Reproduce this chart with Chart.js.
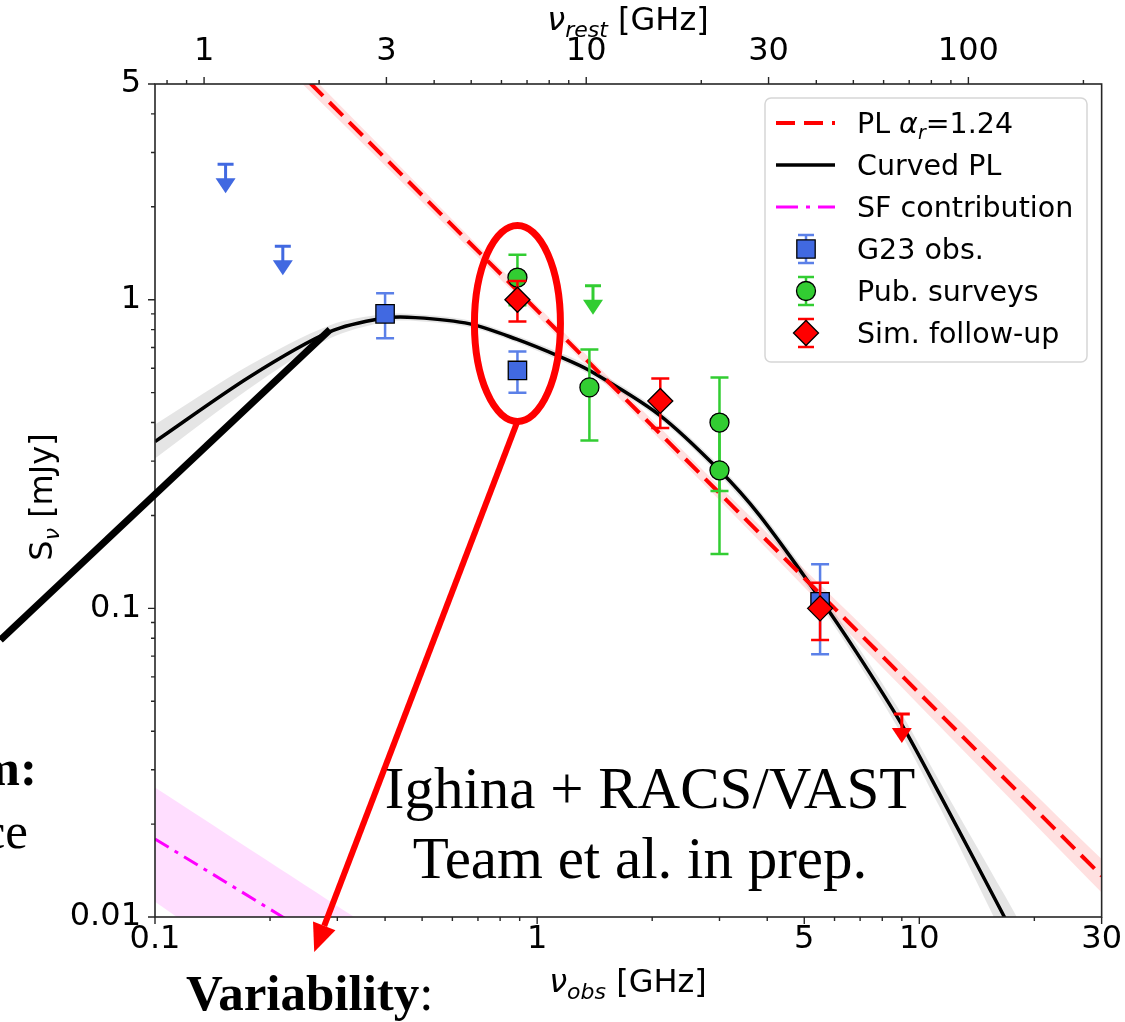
<!DOCTYPE html>
<html>
<head>
<meta charset="utf-8">
<title>Radio SED</title>
<script src="https://cdn.jsdelivr.net/npm/chart.js@4.4.1/dist/chart.umd.min.js"></script>
<style>
  html, body { margin: 0; padding: 0; background: #fff; }
  canvas { display: block; }
</style>
</head>
<body>
<canvas id="sed" width="1125" height="1022"></canvas>
<script>
const redshift = 6.44;

// observed frequency [GHz], flux density [mJy]
const g23Freq = [0.4, 0.888, 5.5];
const g23Flux = [0.90, 0.59, 0.105];
const g23Err = [0.15, 0.09, 0.034];
const g23LimFreq = [0.153, 0.216];
const g23LimFlux = [2.75, 1.49];

const pubFreq = [0.888, 1.37, 3.0, 3.0];
const pubFlux = [1.18, 0.52, 0.40, 0.28];
const pubErr = [0.22, 0.17, 0.16, 0.13];
const pubLimFreq = [1.4];
const pubLimFlux = [1.11];

const simFreq = [0.888, 2.1, 5.5];
const simFlux = [1.0, 0.47, 0.10];
const simErr = [0.15, 0.086, 0.021];
const simLimFreq = [9.0];
const simLimFlux = [0.0455];

// power law fit and its 1-sigma band
const plFreq = [0.2, 1.5, 30];
const plFlux = [6.8, 0.558, 0.0136];
const plHi = [7.25, 0.58, 0.0154];
const plLo = [6.35, 0.536, 0.0120];

// curved power law fit and band
const cplFreq = [0.1, 0.177, 0.287, 0.396, 0.48, 0.667, 0.883, 1.147, 1.37, 2.09, 3.0, 3.82, 5.49, 6.85, 9.0, 11.3, 16.7, 18.5];
const cplFlux = [0.347, 0.563, 0.788, 0.871, 0.875, 0.835, 0.745, 0.654, 0.590, 0.423, 0.280, 0.200, 0.108, 0.072, 0.042, 0.025, 0.0100, 0.0078];
const cplHi = [0.394, 0.614, 0.827, 0.897, 0.897, 0.856, 0.764, 0.674, 0.608, 0.436, 0.290, 0.208, 0.1134, 0.0763, 0.0454, 0.0275, 0.0118, 0.0094];
const cplLo = [0.306, 0.517, 0.750, 0.846, 0.854, 0.815, 0.727, 0.635, 0.573, 0.411, 0.270, 0.192, 0.1029, 0.0679, 0.0389, 0.0227, 0.0085, 0.0065];

// star-formation contribution
const sfFreq = [0.1, 0.5];
const sfFlux = [0.0179, 0.0053];
const sfHi = [0.0263, 0.0072];
const sfLo = [0.0112, 0.0028];

// axis ticks
const xMajor = [0.1, 1, 5, 10, 30];
const xMajorLabels = ['0.1', '1', '5', '10', '30'];
const xMinor = [0.2, 0.3, 0.4, 0.5, 0.6, 0.7, 0.8, 0.9, 2, 3, 4, 6, 7, 8, 9, 20];
const restMajor = [1, 3, 10, 30, 100];
const restMajorLabels = ['1', '3', '10', '30', '100'];
const restMinor = [0.8, 0.9, 2, 4, 5, 6, 7, 8, 9, 20, 40, 50, 60, 70, 80, 90, 200];
const yMajor = [0.01, 0.1, 1, 5];
const yMajorLabels = ['0.01', '0.1', '1', '5'];
const yMinor = [0.02, 0.03, 0.04, 0.05, 0.06, 0.07, 0.08, 0.09, 0.2, 0.3, 0.4, 0.5, 0.6, 0.7, 0.8, 0.9, 2, 3, 4];

const pts = (xs, ys) => xs.map((x, i) => ({ x: x, y: ys[i] }));
const labelFor = (vals, labels) => v => {
  const i = vals.findIndex(t => Math.abs(t - v) / t < 1e-6);
  return i < 0 ? '' : labels[i];
};

const SANS = '"DejaVu Sans", sans-serif';
const SERIF = '"Liberation Serif", "Times New Roman", serif';
Chart.defaults.font.family = SANS;

function band(data, color) {
  return { data: data, fill: '+1', backgroundColor: color, borderWidth: 0, pointRadius: 0, tension: 0.3, order: 20 };
}
function bandEdge(data) {
  return { data: data, fill: false, borderWidth: 0, pointRadius: 0, tension: 0.3, order: 20 };
}
function markers(label, data, err, style, radius, fill, errColor) {
  return {
    label: label, data: data, yErr: err, errColor: errColor, showLine: false,
    pointStyle: style, pointRadius: radius, pointHoverRadius: radius,
    pointBackgroundColor: fill, pointBorderColor: '#000', pointBorderWidth: 1.3, order: 1
  };
}
function limits(data, color) {
  return { data: data, upperLimit: true, limColor: color, showLine: false, pointRadius: 0, order: 2 };
}

// draw a run of differently styled text pieces on one baseline
function runsWidth(ctx, runs) {
  let w = 0;
  runs.forEach(r => { ctx.font = r.font; w += ctx.measureText(r.t).width; });
  return w;
}
function drawRuns(ctx, runs, x, y, center) {
  let cx = center ? x - runsWidth(ctx, runs) / 2 : x;
  ctx.textAlign = 'left';
  ctx.textBaseline = 'alphabetic';
  runs.forEach(r => {
    ctx.font = r.font;
    ctx.fillText(r.t, cx, y + (r.dy || 0));
    cx += ctx.measureText(r.t).width;
  });
}

function drawLimit(ctx, x, y, color) {
  ctx.strokeStyle = color;
  ctx.fillStyle = color;
  ctx.lineWidth = 3;
  ctx.beginPath();
  ctx.moveTo(x - 8, y); ctx.lineTo(x + 8, y);
  ctx.moveTo(x, y); ctx.lineTo(x, y + 15);
  ctx.stroke();
  ctx.beginPath();
  ctx.moveTo(x - 10, y + 14); ctx.lineTo(x + 10, y + 14); ctx.lineTo(x, y + 29);
  ctx.closePath();
  ctx.fill();
}

function drawErr(ctx, x, top, bot, color, cap) {
  ctx.strokeStyle = color;
  ctx.lineWidth = 2.5;
  ctx.beginPath();
  ctx.moveTo(x, top); ctx.lineTo(x, bot);
  ctx.moveTo(x - cap, top); ctx.lineTo(x + cap, top);
  ctx.moveTo(x - cap, bot); ctx.lineTo(x + cap, bot);
  ctx.stroke();
}

const sedPlugin = {
  id: 'sed',
  beforeDatasetDraw(chart, args) {
    const ds = chart.data.datasets[args.index];
    if (!ds.yErr) return;
    const ctx = chart.ctx, ys = chart.scales.y;
    ctx.save();
    args.meta.data.forEach((p, i) => {
      const v = ds.data[i].y, e = ds.yErr[i];
      drawErr(ctx, p.x, ys.getPixelForValue(v + e), ys.getPixelForValue(v - e), ds.errColor, 9);
    });
    ctx.restore();
  },
  afterDatasetDraw(chart, args) {
    const ds = chart.data.datasets[args.index];
    if (!ds.upperLimit) return;
    const ctx = chart.ctx;
    ctx.save();
    args.meta.data.forEach(p => drawLimit(ctx, p.x, p.y, ds.limColor));
    ctx.restore();
  },
  afterDraw(chart) {
    const ctx = chart.ctx, a = chart.chartArea;
    const xs = chart.scales.x, xt = chart.scales.xTop, ys = chart.scales.y;
    ctx.save();

    // frame
    ctx.strokeStyle = '#262626';
    ctx.lineWidth = 1.6;
    ctx.strokeRect(a.left, a.top, a.right - a.left, a.bottom - a.top);

    // tick marks, pointing outwards
    ctx.lineWidth = 1.4;
    const tick = (scale, vals, len, side) => {
      ctx.beginPath();
      vals.forEach(v => {
        const p = scale.getPixelForValue(v);
        if (side === 'bottom') { ctx.moveTo(p, a.bottom); ctx.lineTo(p, a.bottom + len); }
        if (side === 'top') { ctx.moveTo(p, a.top); ctx.lineTo(p, a.top - len); }
        if (side === 'left') { ctx.moveTo(a.left, p); ctx.lineTo(a.left - len, p); }
      });
      ctx.stroke();
    };
    tick(xs, xMajor, 7, 'bottom');
    tick(xs, xMinor, 4, 'bottom');
    tick(xt, restMajor, 7, 'top');
    tick(xt, restMinor, 4, 'top');
    tick(ys, yMajor, 7, 'left');
    tick(ys, yMinor, 4, 'left');

    // axis titles
    ctx.fillStyle = '#000';
    const nu = 'italic 32px ' + SANS, sub = 'italic 22px ' + SANS, txt = '32px ' + SANS;
    drawRuns(ctx, [{ t: 'ν', font: nu }, { t: 'obs', font: sub, dy: 7 }, { t: ' [GHz]', font: txt }], 628, 992, true);
    drawRuns(ctx, [{ t: 'ν', font: nu }, { t: 'rest', font: sub, dy: 7 }, { t: ' [GHz]', font: txt }], 628, 30, true);
    ctx.save();
    ctx.translate(52, 497);
    ctx.rotate(-Math.PI / 2);
    drawRuns(ctx, [{ t: 'S', font: txt }, { t: 'ν', font: sub, dy: 7 }, { t: ' [mJy]', font: txt }], 0, 0, true);
    ctx.restore();

    // legend
    const lx = 765, ly = 98, lw = 322, lh = 264;
    ctx.fillStyle = 'rgba(255,255,255,0.85)';
    ctx.strokeStyle = '#d6d6d6';
    ctx.lineWidth = 1.5;
    ctx.beginPath();
    ctx.roundRect(lx, ly, lw, lh, 6);
    ctx.fill();
    ctx.stroke();

    const rows = [123, 165, 207, 249, 291, 333];
    const hx0 = 776, hx1 = 835, hc = 806, tx = 857;
    const lineHandle = (y, color, width, dash) => {
      ctx.strokeStyle = color;
      ctx.lineWidth = width;
      ctx.setLineDash(dash);
      ctx.beginPath();
      ctx.moveTo(hx0, y); ctx.lineTo(hx1, y);
      ctx.stroke();
      ctx.setLineDash([]);
    };
    lineHandle(rows[0], '#ff0000', 4, [19, 9]);
    lineHandle(rows[1], '#000000', 3.5, []);
    lineHandle(rows[2], '#ff00ff', 3, [22, 8, 4, 8]);

    const markHandle = (y, style, radius, fill, errColor) => {
      drawErr(ctx, hc, y - 14, y + 14, errColor, 8);
      ctx.fillStyle = fill;
      ctx.strokeStyle = '#000';
      ctx.lineWidth = 1.3;
      Chart.helpers.drawPoint(ctx, { pointStyle: style, radius: radius, rotation: 0, borderWidth: 1.3 }, hc, y);
    };
    markHandle(rows[3], 'rect', 13, '#4169e1', '#5b80e8');
    markHandle(rows[4], 'circle', 9.5, '#32cd32', '#32cd32');
    markHandle(rows[5], 'rectRot', 12.5, '#ff0000', '#ff0000');

    ctx.fillStyle = '#000';
    const lf = '28.5px ' + SANS;
    const base = y => y + 10;
    drawRuns(ctx, [{ t: 'PL ', font: lf }, { t: 'α', font: 'italic 28.5px ' + SANS }, { t: 'r', font: 'italic 19px ' + SANS, dy: 6 }, { t: '=1.24', font: lf }], tx, base(rows[0]), false);
    drawRuns(ctx, [{ t: 'Curved PL', font: lf }], tx, base(rows[1]), false);
    drawRuns(ctx, [{ t: 'SF contribution', font: lf }], tx, base(rows[2]), false);
    drawRuns(ctx, [{ t: 'G23 obs.', font: lf }], tx, base(rows[3]), false);
    drawRuns(ctx, [{ t: 'Pub. surveys', font: lf }], tx, base(rows[4]), false);
    drawRuns(ctx, [{ t: 'Sim. follow-up', font: lf }], tx, base(rows[5]), false);

    // callouts
    ctx.strokeStyle = '#000';
    ctx.lineWidth = 7;
    ctx.beginPath();
    ctx.moveTo(xs.getPixelForValue(0.0394), ys.getPixelForValue(0.079));
    ctx.lineTo(xs.getPixelForValue(0.287), ys.getPixelForValue(0.80));
    ctx.stroke();

    const ex = xs.getPixelForValue(0.888), ey = ys.getPixelForValue(0.838);
    const rx = 43, ry = 98;
    ctx.strokeStyle = '#ff0000';
    ctx.beginPath();
    ctx.ellipse(ex, ey, rx, ry, 0, 0, Math.PI * 2);
    ctx.stroke();

    const tipX = xs.getPixelForValue(0.261), tipY = ys.getPixelForValue(0.0077);
    const sx = ex, sy = ey + ry;
    const ang = Math.atan2(tipY - sy, tipX - sx);
    const hl = 28, hw = 12;
    const bx = tipX - hl * Math.cos(ang), by = tipY - hl * Math.sin(ang);
    ctx.lineWidth = 6;
    ctx.beginPath();
    ctx.moveTo(sx, sy); ctx.lineTo(bx, by);
    ctx.stroke();
    ctx.fillStyle = '#ff0000';
    ctx.beginPath();
    ctx.moveTo(tipX, tipY);
    ctx.lineTo(bx + hw * Math.sin(ang), by - hw * Math.cos(ang));
    ctx.lineTo(bx - hw * Math.sin(ang), by + hw * Math.cos(ang));
    ctx.closePath();
    ctx.fill();

    ctx.fillStyle = '#000';
    ctx.textBaseline = 'alphabetic';
    ctx.font = '59px ' + SERIF;
    ctx.textAlign = 'center';
    ctx.fillText('Ighina + RACS/VAST', 650, 808);
    ctx.fillText('Team et al. in prep.', 640, 878);
    ctx.textAlign = 'left';
    drawRuns(ctx, [{ t: 'Variability', font: 'bold 51px ' + SERIF }, { t: ':', font: '51px ' + SERIF }], 186, 1010, false);
    ctx.textAlign = 'right';
    ctx.font = 'bold 51px ' + SERIF;
    ctx.fillText('m:', 37, 785);
    ctx.font = '51px ' + SERIF;
    ctx.fillText('ce', 28, 848);

    ctx.restore();
  }
};

new Chart(document.getElementById('sed'), {
  type: 'line',
  data: {
    datasets: [
      markers('Sim. follow-up', pts(simFreq, simFlux), simErr, 'rectRot', 12.5, '#ff0000', '#ff0000'),
      markers('Pub. surveys', pts(pubFreq, pubFlux), pubErr, 'circle', 9.5, '#32cd32', '#32cd32'),
      markers('G23 obs.', pts(g23Freq, g23Flux), g23Err, 'rect', 13, '#4169e1', '#5b80e8'),
      limits(pts(simLimFreq, simLimFlux), '#ff0000'),
      limits(pts(pubLimFreq, pubLimFlux), '#32cd32'),
      limits(pts(g23LimFreq, g23LimFlux), '#4169e1'),
      { label: 'PL', data: pts(plFreq, plFlux), borderColor: '#ff0000', borderWidth: 4, borderDash: [19, 9], pointRadius: 0, fill: false, order: 8 },
      { label: 'Curved PL', data: pts(cplFreq, cplFlux), borderColor: '#000', borderWidth: 3.5, tension: 0.3, pointRadius: 0, fill: false, order: 9 },
      { label: 'SF contribution', data: pts(sfFreq, sfFlux), borderColor: '#ff00ff', borderWidth: 3, borderDash: [16, 7, 4, 7], pointRadius: 0, fill: false, order: 10 },
      band(pts(plFreq, plHi), 'rgba(255,0,0,0.12)'),
      bandEdge(pts(plFreq, plLo)),
      band(pts(cplFreq, cplHi), 'rgba(0,0,0,0.10)'),
      bandEdge(pts(cplFreq, cplLo)),
      band(pts(sfFreq, sfHi), 'rgba(255,0,255,0.13)'),
      bandEdge(pts(sfFreq, sfLo))
    ]
  },
  options: {
    responsive: false,
    animation: false,
    devicePixelRatio: 1,
    layout: { padding: { left: 0, right: 23, top: 0, bottom: 0 } },
    plugins: { legend: { display: false }, tooltip: { enabled: false } },
    scales: {
      x: {
        type: 'logarithmic', position: 'bottom', min: 0.1, max: 30, bounds: 'data',
        grid: { display: false, drawTicks: false }, border: { display: false },
        ticks: { autoSkip: false, maxRotation: 0, padding: 3, color: '#000', font: { size: 32 }, callback: labelFor(xMajor, xMajorLabels) },
        afterBuildTicks: s => { s.ticks = xMajor.map(v => ({ value: v })); },
        afterFit: s => { s.height = 105; }
      },
      xTop: {
        type: 'logarithmic', position: 'top', min: 0.1 * (1 + redshift), max: 30 * (1 + redshift), bounds: 'data',
        grid: { display: false, drawTicks: false }, border: { display: false },
        ticks: { autoSkip: false, maxRotation: 0, padding: 13, color: '#000', font: { size: 32 }, callback: labelFor(restMajor, restMajorLabels) },
        afterBuildTicks: s => { s.ticks = restMajor.map(v => ({ value: v })); },
        afterFit: s => { s.height = 84; }
      },
      y: {
        type: 'logarithmic', position: 'left', min: 0.01, max: 5, bounds: 'data',
        grid: { display: false, drawTicks: false }, border: { display: false },
        ticks: { autoSkip: false, padding: 14, color: '#000', font: { size: 32 }, callback: labelFor(yMajor, yMajorLabels) },
        afterBuildTicks: s => { s.ticks = yMajor.map(v => ({ value: v })); },
        afterFit: s => { s.width = 155; }
      }
    }
  },
  plugins: [sedPlugin]
});
</script>
</body>
</html>
